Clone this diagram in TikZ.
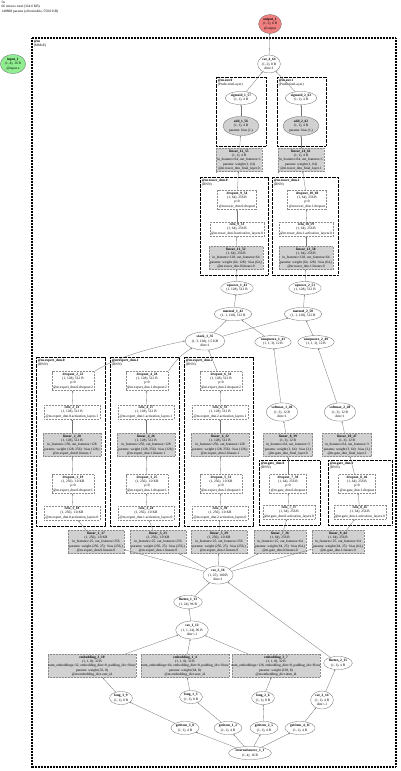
\documentclass[tikz,border=0pt]{standalone}
\usepackage{fontspec}
\setmainfont{Liberation Serif}
\usetikzlibrary{shapes.geometric,arrows.meta}
\catcode`\_=12
\newcommand\nfont{\fontsize{3.5}{4.3}\selectfont}
\newcommand\nt[2]{\textbf{#1}\\#2}
\begin{document}
\begin{tikzpicture}[x=1pt,y=-1pt,
  every node/.style={font=\nfont, align=center},
  op/.style={ellipse, draw=black!60, line width=0.3pt, inner sep=0.9pt},
  opp/.style={op, fill=black!18},
  outp/.style={op, fill={rgb,255:red,240;green,128;blue,128}},
  inp/.style={op, fill={rgb,255:red,144;green,238;blue,144}},
  mod/.style={rectangle, draw=black!45, dash pattern=on 0.9pt off 0.6pt, line width=0.3pt, inner sep=1.4pt},
  modp/.style={mod, fill=black!18},
  clus/.style={draw=black, line width=0.8pt, dash pattern=on 0.7pt off 0.6pt},
  bigclus/.style={draw=black, line width=1.3pt, dash pattern=on 0.9pt off 0.6pt},
  cl/.style={anchor=north west, align=left, inner sep=0.6pt},
  edge/.style={draw=black!55, line width=0.3pt, -{Stealth[length=1.7pt,width=1.4pt]}}
]
\useasboundingbox (0,0) rectangle (400,771);
% title
\node[anchor=north west, align=left, inner sep=0.5pt] (title) at (1,0.5) {fw\\66 tensors total (324.6 KB)\\140808 params (all trainable, 550.0 KB)};
% input/output
\node[inp] (input_1) at (13,64) {\nt{input_1}{(1, 4), 16 B\\@input.x}};
\node[outp] (output_1) at (270,24) {\nt{output_1}{(1, 2), 8 B\\@output}};
% main cluster
\draw[bigclus] (32,38) rectangle (396,767);
\node[cl] (lm) at (33,39) {\textbf{@m}\\(MMoE)};
\node[op] (cat_4_64) at (269,64) {\nt{cat_4_64}{(1, 2), 8 B\\dim=1}};
% prediction layers
\draw[clus] (216,77) rectangle (266,146);
\node[cl] (lo0) at (217,78) {\textbf{@m.out.0}\\(PredictionLayer)};
\draw[clus] (277,77) rectangle (326,146);
\node[cl] (lo1) at (278,78) {\textbf{@m.out.1}\\(PredictionLayer)};
\node[op] (sigmoid_1_57) at (241,98) {\nt{sigmoid_1_57}{(1, 1), 4 B}};
\node[opp] (add_1_56) at (241,126) {\nt{add_1_56}{(1, 1), 4 B\\params: bias (1,)}};
\node[op] (sigmoid_2_63) at (301,98) {\nt{sigmoid_2_63}{(1, 1), 4 B}};
\node[opp] (add_2_62) at (301,126) {\nt{add_2_62}{(1, 1), 4 B\\params: bias (1,)}};
\node[modp] (linear_12_55) at (239,160) {\nt{linear_12_55}{(1, 1), 4 B\\in_features=64, out_features=1\\params: weight (1, 64)\\@m.tower_dnn_final_layer.0}};
\node[modp] (linear_14_61) at (301,160) {\nt{linear_14_61}{(1, 1), 4 B\\in_features=64, out_features=1\\params: weight (1, 64)\\@m.tower_dnn_final_layer.1}};
% towers
\draw[clus] (200,177) rectangle (268,275);
\node[cl] (lt0) at (201,178) {\textbf{@m.tower_dnn.0}\\(DNN)};
\draw[clus] (272,177) rectangle (338,275);
\node[cl] (lt1) at (273,178) {\textbf{@m.tower_dnn.1}\\(DNN)};
\node[mod] (dropout_9_54) at (237,200) {\nt{dropout_9_54}{(1, 64), 256 B\\p=0\\@m.tower_dnn.0.dropout}};
\node[mod] (relu_9_53) at (237,229) {\nt{relu_9_53}{(1, 64), 256 B\\@m.tower_dnn.0.activation_layers.0}};
\node[modp] (linear_11_52) at (236,258) {\nt{linear_11_52}{(1, 64), 256 B\\in_features=128, out_features=64\\params: weight (64, 128) · bias (64,)\\@m.tower_dnn.0.linears.0}};
\node[mod] (dropout_10_60) at (307,200) {\nt{dropout_10_60}{(1, 64), 256 B\\p=0\\@m.tower_dnn.1.dropout}};
\node[mod] (relu_10_59) at (306,229) {\nt{relu_10_59}{(1, 64), 256 B\\@m.tower_dnn.1.activation_layers.0}};
\node[modp] (linear_13_58) at (306,258) {\nt{linear_13_58}{(1, 64), 256 B\\in_features=128, out_features=64\\params: weight (64, 128) · bias (64,)\\@m.tower_dnn.1.linears.0}};
% gating ops
\node[op] (squeeze_1_43) at (237,288) {\nt{squeeze_1_43}{(1, 128), 512 B}};
\node[op] (squeeze_2_51) at (305,288) {\nt{squeeze_2_51}{(1, 128), 512 B}};
\node[op] (matmul_1_42) at (233,314) {\nt{matmul_1_42}{(1, 1, 128), 512 B}};
\node[op] (matmul_2_50) at (303,314) {\nt{matmul_2_50}{(1, 1, 128), 512 B}};
\node[op] (stack_1_35) at (205,341) {\nt{stack_1_35}{(1, 3, 128), 1.5 KB\\dim=1}};
\node[op] (unsqueeze_1_41) at (273,342) {\nt{unsqueeze_1_41}{(1, 1, 3), 12 B}};
\node[op] (unsqueeze_2_49) at (316,342) {\nt{unsqueeze_2_49}{(1, 1, 3), 12 B}};
\node[op] (softmax_1_40) at (282,412) {\nt{softmax_1_40}{(1, 3), 12 B\\dim=1}};
\node[op] (softmax_2_48) at (340,412) {\nt{softmax_2_48}{(1, 3), 12 B\\dim=1}};
\node[modp] (linear_8_39) at (288,445) {\nt{linear_8_39}{(1, 3), 12 B\\in_features=64, out_features=3\\params: weight (3, 64) · bias (3,)\\@m.gate_dnn_final_layer.0}};
\node[modp] (linear_10_47) at (347,445) {\nt{linear_10_47}{(1, 3), 12 B\\in_features=64, out_features=3\\params: weight (3, 64) · bias (3,)\\@m.gate_dnn_final_layer.1}};
% gates
\draw[clus] (259,460) rectangle (320,525);
\node[cl] (lg0) at (260,461) {\textbf{@m.gate_dnn.0}\\(DNN)};
\draw[clus] (328,460) rectangle (392,525);
\node[cl] (lg1) at (329,461) {\textbf{@m.gate_dnn.1}\\(DNN)};
\node[mod] (dropout_7_38) at (288,484) {\nt{dropout_7_38}{(1, 64), 256 B\\p=0\\@m.gate_dnn.0.dropout}};
\node[mod] (relu_7_37) at (289,512) {\nt{relu_7_37}{(1, 64), 256 B\\@m.gate_dnn.0.activation_layers.0}};
\node[mod] (dropout_8_46) at (357,484) {\nt{dropout_8_46}{(1, 64), 256 B\\p=0\\@m.gate_dnn.1.dropout}};
\node[mod] (relu_8_45) at (360,512) {\nt{relu_8_45}{(1, 64), 256 B\\@m.gate_dnn.1.activation_layers.0}};
\node[modp] (linear_7_36) at (280,542) {\nt{linear_7_36}{(1, 64), 256 B\\in_features=25, out_features=64\\params: weight (64, 25) · bias (64,)\\@m.gate_dnn.0.linears.0}};
\node[modp] (linear_9_44) at (338,542) {\nt{linear_9_44}{(1, 64), 256 B\\in_features=25, out_features=64\\params: weight (64, 25) · bias (64,)\\@m.gate_dnn.1.linears.0}};
% experts
\foreach \e/\dx/\la/\lb/\lc/\ld/\le/\lf in {0/0/1_17/1_18/1_19/2_20/2_21/2_22, 1/74/3_23/3_24/3_25/4_26/4_27/4_28, 2/148/5_29/5_30/5_31/6_32/6_33/6_34}{
  \draw[clus] (36+\dx,357) rectangle (105+\dx,526);
  \node[cl] (le\e) at (37+\dx,358) {\textbf{@m.expert_dnn.\e}\\(DNN)};
  \node[mod] (dropout_\lf) at (73+\dx,381) {\nt{dropout_\lf}{(1, 128), 512 B\\p=0\\@m.expert_dnn.\e.dropout:2}};
  \node[mod] (relu_\le) at (72+\dx,412) {\nt{relu_\le}{(1, 128), 512 B\\@m.expert_dnn.\e.activation_layers.1}};
  \node[modp] (linear_\ld) at (72+\dx,445) {\nt{linear_\ld}{(1, 128), 512 B\\in_features=256, out_features=128\\params: weight (128, 256) · bias (128,)\\@m.expert_dnn.\e.linears.1}};
  \node[mod] (dropout_\lc) at (73+\dx,484) {\nt{dropout_\lc}{(1, 256), 1.0 KB\\p=0\\@m.expert_dnn.\e.dropout:1}};
  \node[mod] (relu_\lb) at (72+\dx,513) {\nt{relu_\lb}{(1, 256), 1.0 KB\\@m.expert_dnn.\e.activation_layers.0}};
  \draw[edge] (relu_\lb) -- (dropout_\lc);
  \draw[edge] (dropout_\lc) -- (linear_\ld);
  \draw[edge] (linear_\ld) -- (relu_\le);
  \draw[edge] (relu_\le) -- (dropout_\lf);
}
\node[modp] (linear_1_17) at (96,542) {\nt{linear_1_17}{(1, 256), 1.0 KB\\in_features=25, out_features=256\\params: weight (256, 25) · bias (256,)\\@m.expert_dnn.0.linears.0}};
\node[modp] (linear_3_23) at (158,542) {\nt{linear_3_23}{(1, 256), 1.0 KB\\in_features=25, out_features=256\\params: weight (256, 25) · bias (256,)\\@m.expert_dnn.1.linears.0}};
\node[modp] (linear_5_29) at (219,542) {\nt{linear_5_29}{(1, 256), 1.0 KB\\in_features=25, out_features=256\\params: weight (256, 25) · bias (256,)\\@m.expert_dnn.2.linears.0}};
% input features
\node[op] (cat_3_16) at (218,575) {\nt{cat_3_16}{(1, 25), 100 B\\dim=1}};
\node[op] (flatten_1_13) at (188,602) {\nt{flatten_1_13}{(1, 24), 96 B}};
\node[op] (cat_1_12) at (192,630) {\nt{cat_1_12}{(1, 1, 24), 96 B\\dim=-1}};
\node[modp, minimum width=88pt] (embedding_3_10) at (92,666) {\nt{embedding_3_10}{(1, 1, 8), 32 B\\\makebox[84pt]{num_embeddings=32, embedding_dim=8, padding_idx=None}\\params: weight (32, 8)\\@m.embedding_dict.cate_id}};
\node[modp, minimum width=88pt] (embedding_1_4) at (185,666) {\nt{embedding_1_4}{(1, 1, 8), 32 B\\\makebox[84pt]{num_embeddings=64, embedding_dim=8, padding_idx=None}\\params: weight (64, 8)\\@m.embedding_dict.user_id}};
\node[modp, minimum width=88pt] (embedding_2_7) at (276,666) {\nt{embedding_2_7}{(1, 1, 8), 32 B\\\makebox[84pt]{num_embeddings=128, embedding_dim=8, padding_idx=None}\\params: weight (128, 8)\\@m.embedding_dict.item_id}};
\node[op] (flatten_2_15) at (338,663) {\nt{flatten_2_15}{(1, 1), 4 B}};
\node[op] (cat_2_14) at (322,700) {\nt{cat_2_14}{(1, 1), 4 B\\dim=-1}};
\node[op] (long_3_9) at (121,698) {\nt{long_3_9}{(1, 1), 8 B}};
\node[op] (long_1_3) at (191,697) {\nt{long_1_3}{(1, 1), 8 B}};
\node[op] (long_2_6) at (263,698) {\nt{long_2_6}{(1, 1), 8 B}};
\node[op] (getitem_3_8) at (185,728) {\nt{getitem_3_8}{(1, 1), 4 B}};
\node[op] (getitem_1_2) at (228,728) {\nt{getitem_1_2}{(1, 1), 4 B}};
\node[op] (getitem_2_5) at (264,728) {\nt{getitem_2_5}{(1, 1), 4 B}};
\node[op] (getitem_4_11) at (300,728) {\nt{getitem_4_11}{(1, 1), 4 B}};
\node[op] (internalsource_1_1) at (250,753) {\nt{internalsource_1_1}{(1, 4), 16 B}};
% edges bottom
\draw[edge] (internalsource_1_1) -- (getitem_3_8);
\draw[edge] (internalsource_1_1) -- (getitem_1_2);
\draw[edge] (internalsource_1_1) -- (getitem_2_5);
\draw[edge] (internalsource_1_1) -- (getitem_4_11);
\draw[edge] (getitem_3_8) -- (long_3_9);
\draw[edge] (getitem_1_2) -- (long_1_3);
\draw[edge] (getitem_2_5) -- (long_2_6);
\draw[edge] (getitem_4_11) -- (cat_2_14);
\draw[edge] (long_3_9) -- (embedding_3_10);
\draw[edge] (long_1_3) -- (embedding_1_4);
\draw[edge] (long_2_6) -- (embedding_2_7);
\draw[edge] (cat_2_14) -- (flatten_2_15);
\draw[edge] (embedding_3_10) -- (cat_1_12);
\draw[edge] (embedding_1_4) -- (cat_1_12);
\draw[edge] (embedding_2_7) -- (cat_1_12);
\draw[edge] (cat_1_12) -- (flatten_1_13);
\draw[edge] (flatten_1_13) -- (cat_3_16);
\draw[edge] (flatten_2_15) -- (cat_3_16);
\draw[edge] (cat_3_16) -- (linear_1_17);
\draw[edge] (cat_3_16) -- (linear_3_23);
\draw[edge] (cat_3_16) -- (linear_5_29);
\draw[edge] (cat_3_16) -- (linear_7_36);
\draw[edge] (cat_3_16) -- (linear_9_44);
\draw[edge] (linear_1_17) -- (relu_1_18);
\draw[edge] (linear_3_23) -- (relu_3_24);
\draw[edge] (linear_5_29) -- (relu_5_30);
% gates
\draw[edge] (linear_7_36) -- (relu_7_37);
\draw[edge] (relu_7_37) -- (dropout_7_38);
\draw[edge] (dropout_7_38) -- (linear_8_39);
\draw[edge] (linear_8_39) -- (softmax_1_40);
\draw[edge] (softmax_1_40) -- (unsqueeze_1_41);
\draw[edge] (linear_9_44) -- (relu_8_45);
\draw[edge] (relu_8_45) -- (dropout_8_46);
\draw[edge] (dropout_8_46) -- (linear_10_47);
\draw[edge] (linear_10_47) -- (softmax_2_48);
\draw[edge] (softmax_2_48) -- (unsqueeze_2_49);
% experts to stack
\draw[edge] (dropout_2_22.north east) .. controls (120,355) and (160,346) .. (stack_1_35.west);
\draw[edge] (dropout_4_28.north east) .. controls (175,360) and (185,352) .. (stack_1_35);
\draw[edge] (dropout_6_34) -- (stack_1_35);
\draw[edge] (stack_1_35) -- (matmul_1_42);
\draw[edge] (stack_1_35) -- (matmul_2_50);
\draw[edge] (unsqueeze_1_41) -- (matmul_1_42);
\draw[edge] (unsqueeze_2_49) -- (matmul_2_50);
\draw[edge] (matmul_1_42) -- (squeeze_1_43);
\draw[edge] (matmul_2_50) -- (squeeze_2_51);
% towers
\draw[edge] (squeeze_1_43) -- (linear_11_52);
\draw[edge] (linear_11_52) -- (relu_9_53);
\draw[edge] (relu_9_53) -- (dropout_9_54);
\draw[edge] (dropout_9_54) -- (linear_12_55);
\draw[edge] (linear_12_55) -- (add_1_56);
\draw[edge] (add_1_56) -- (sigmoid_1_57);
\draw[edge] (sigmoid_1_57) -- (cat_4_64);
\draw[edge] (squeeze_2_51) -- (linear_13_58);
\draw[edge] (linear_13_58) -- (relu_10_59);
\draw[edge] (relu_10_59) -- (dropout_10_60);
\draw[edge] (dropout_10_60) -- (linear_14_61);
\draw[edge] (linear_14_61) -- (add_2_62);
\draw[edge] (add_2_62) -- (sigmoid_2_63);
\draw[edge] (sigmoid_2_63) -- (cat_4_64);
\draw[edge] (cat_4_64) -- (output_1);
\end{tikzpicture}
\end{document}
